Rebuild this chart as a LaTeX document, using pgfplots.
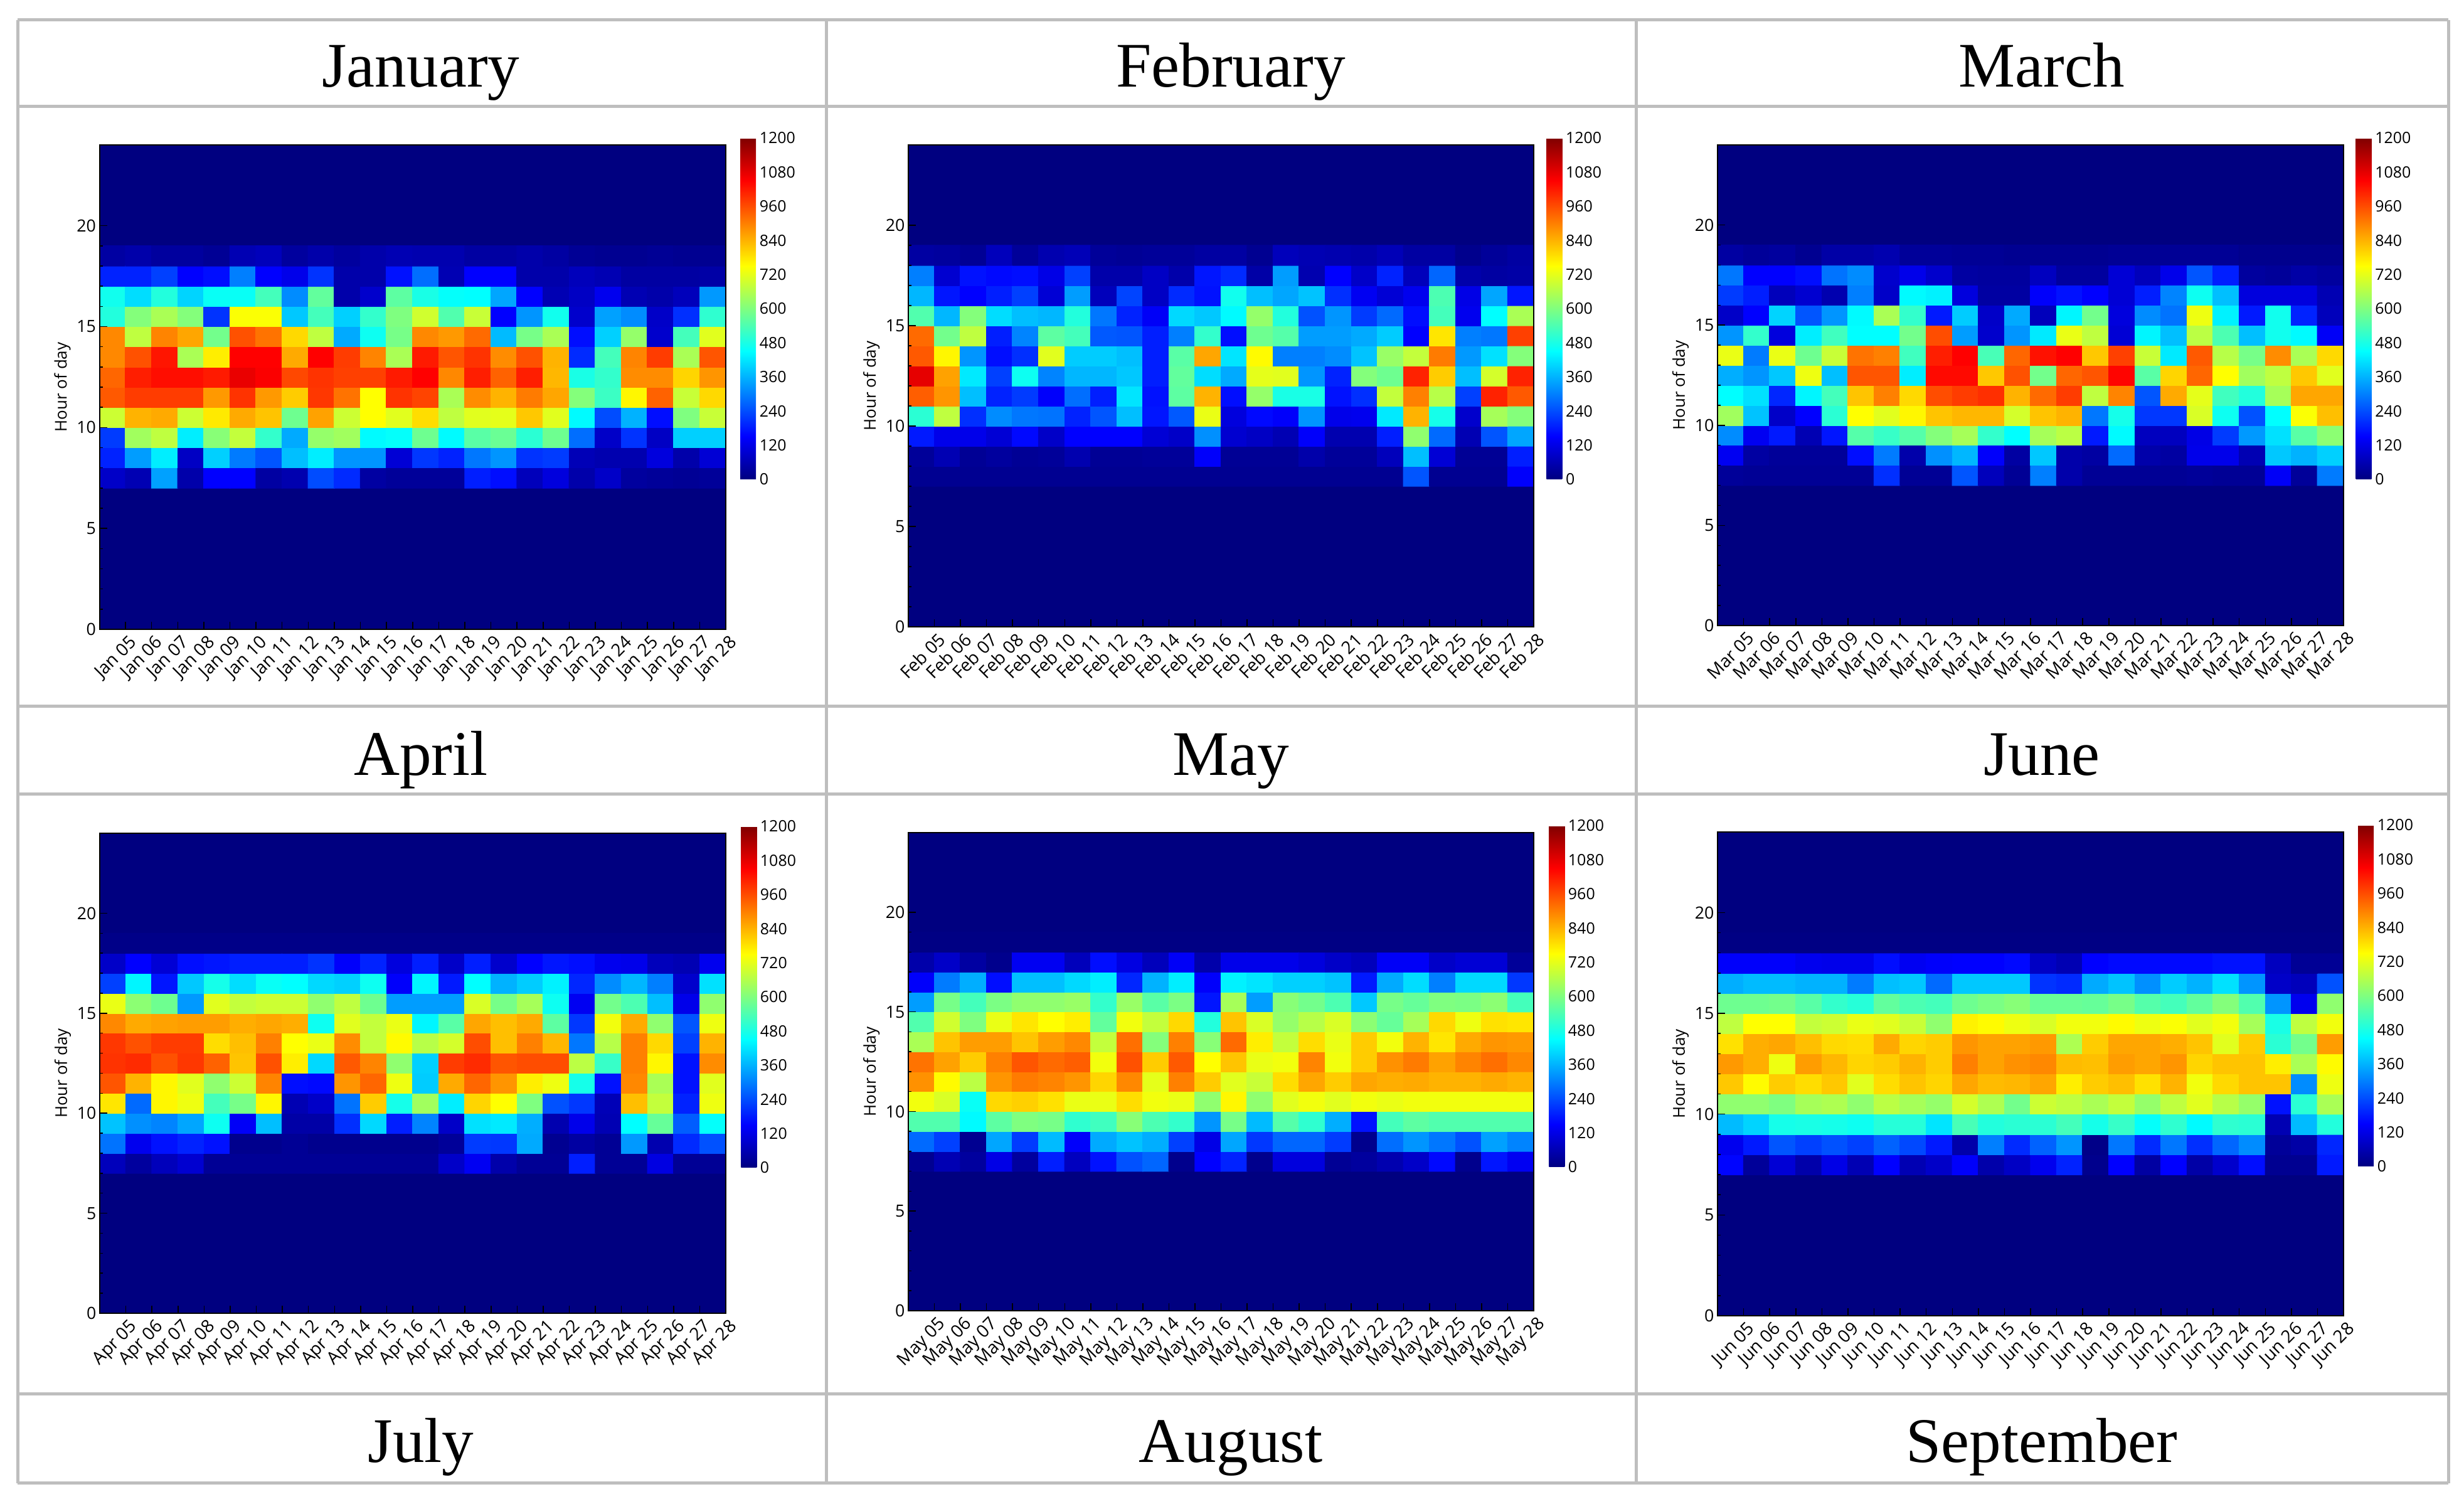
\documentclass[border=0pt]{standalone}
\usepackage{fontspec}
\usepackage{pgfplots}
\pgfplotsset{compat=1.18}
\setmainfont{Open Sans}
\newfontfamily\titlefont{Liberation Serif}
\definecolor{rule}{RGB}{190,190,190}
\definecolor{navy}{RGB}{0,0,128}

\pgfplotsset{
  heat/.style={
    scale only axis,
    axis on top,
    anchor=south west,
    xmin=0, xmax=24, ymin=0, ymax=24,
    point meta min=0, point meta max=1200,
    colormap/jet,
    axis background/.style={fill=navy},
    axis line style={line width=0.02cm},
    tick align=inside,
    xtick pos=bottom, ytick pos=left,
    xtick={1,...,24},
    ytick={0,5,...,20},
    minor y tick num=4,
    major tick length=0.12cm,
    minor tick length=0.05cm,
    tick style={black, line width=0.015cm},
    /pgf/number format/assume math mode=true,
    /pgf/number format/1000 sep={},
    xticklabel style={font=\fontsize{8}{9}\selectfont, rotate=45, anchor=north east, inner sep=0.02cm, yshift=-0.06cm},
    yticklabel style={font=\fontsize{7.6}{9}\selectfont, inner sep=0.05cm},
    ylabel={Hour of day},
    ylabel style={font=\fontsize{7.4}{8}\selectfont, at={(axis description cs:-0.059,0.5)}, anchor=center},
    colorbar,
    colorbar style={
      xshift=-0.32cm, yshift=0.11cm,
      width=0.25cm, height=5.44cm,
      ytick={0,120,...,1200},
      axis line style={draw=none},
      ytick style={draw=none},
      yticklabel pos=right,
      yticklabel style={font=\fontsize{7.1}{8}\selectfont, inner sep=0.05cm,
        /pgf/number format/assume math mode=true, /pgf/number format/1000 sep={}},
      ylabel={},
    },
  },
}

% #1 x, #2 y, #3 width, #4 height, #5 month, #6 cell values, hours 7 up to 18, days 05 to 28
% first two values of each row are guard columns left of xmin, clipped away:
% matrix plot* shears the first columns of its mesh
\newcommand{\panel}[6]{%
  \begin{axis}[heat, at={(#1cm,#2cm)}, width=#3cm, height=#4cm,
    xticklabels={#5 05,#5 06,#5 07,#5 08,#5 09,#5 10,#5 11,#5 12,#5 13,#5 14,#5 15,#5 16,#5 17,#5 18,#5 19,#5 20,#5 21,#5 22,#5 23,#5 24,#5 25,#5 26,#5 27,#5 28}]
    \addplot[matrix plot*, mesh/cols=26, point meta=\thisrowno{0}]
      table[row sep=crcr, header=false,
            x expr={mod(\coordindex,26)-1.5},
            y expr={7.5+floor(\coordindex/26)}] {#6};
  \end{axis}}

\begin{document}
\begin{tikzpicture}
\fill[white] (0,0) rectangle (39.28,23.97);
% table rules
\foreach \y in {32,170,1126,1266,2222,2364}
  \draw[rule, line width=0.05cm] (0.28,{23.97-\y/100}) -- (39.03,{23.97-\y/100});
\foreach \x in {28,1317,2608,3903}
  \draw[rule, line width=0.05cm] ({\x/100},{23.97-0.32}) -- ({\x/100},{23.97-23.64});
% month headings
\foreach \x/\y/\t in {6.71/22.58/January,19.62/22.58/February,32.55/22.58/March,
                      6.71/11.61/April,19.62/11.61/May,32.55/11.61/June,
                      6.71/0.66/July,19.62/0.66/August,32.55/0.66/September}
  \node[font=\titlefont\fontsize{28.8}{32}\selectfont, anchor=base] at (\x,\y) {\t};

\panel{1.585}{13.94}{9.985}{7.72}{Jan}{
0\\0\\85\\60\\340\\50\\150\\150\\40\\55\\240\\200\\40\\30\\30\\30\\185\\165\\70\\110\\50\\85\\35\\30\\25\\30\\
0\\0\\190\\335\\430\\80\\395\\295\\250\\375\\430\\325\\325\\100\\215\\190\\290\\325\\210\\220\\65\\55\\55\\110\\50\\100\\
0\\0\\220\\640\\675\\430\\610\\680\\510\\350\\625\\640\\445\\455\\580\\445\\555\\575\\500\\580\\280\\85\\210\\80\\395\\395\\
0\\0\\690\\840\\850\\690\\775\\850\\820\\580\\860\\690\\750\\715\\790\\675\\715\\720\\815\\715\\445\\240\\360\\165\\600\\685\\
0\\0\\945\\980\\980\\980\\870\\990\\870\\810\\985\\915\\750\\990\\970\\650\\885\\840\\905\\855\\605\\520\\760\\935\\685\\795\\
0\\0\\930\\1015\\1035\\1035\\1020\\1075\\1055\\965\\990\\975\\975\\1020\\1050\\890\\1015\\935\\1015\\835\\480\\510\\885\\885\\800\\875\\
0\\0\\890\\955\\1025\\650\\770\\1050\\1050\\850\\1050\\980\\895\\650\\1020\\950\\990\\885\\955\\840\\200\\530\\895\\980\\650\\950\\
0\\0\\890\\675\\895\\855\\585\\955\\915\\795\\675\\350\\465\\590\\890\\870\\925\\370\\590\\650\\165\\395\\625\\90\\530\\715\\
0\\0\\490\\605\\650\\605\\210\\745\\745\\385\\530\\395\\510\\600\\695\\545\\685\\150\\325\\470\\90\\340\\315\\85\\205\\505\\
0\\0\\470\\410\\490\\400\\460\\460\\530\\315\\565\\50\\90\\560\\480\\455\\450\\345\\150\\60\\80\\130\\60\\50\\70\\330\\
0\\0\\190\\190\\225\\150\\165\\300\\150\\125\\210\\50\\50\\170\\280\\60\\150\\150\\50\\50\\70\\60\\40\\40\\40\\45\\
0\\0\\40\\50\\35\\35\\25\\60\\70\\35\\50\\35\\50\\60\\55\\55\\40\\40\\50\\40\\25\\20\\20\\25\\20\\20\\
}

\panel{14.48}{13.98}{9.97}{7.68}{Feb}{
0\\0\\20\\20\\20\\20\\20\\20\\20\\20\\20\\20\\20\\20\\20\\20\\20\\20\\20\\20\\20\\250\\20\\20\\20\\145\\
0\\0\\30\\60\\25\\35\\25\\30\\55\\25\\25\\30\\30\\145\\25\\25\\25\\50\\30\\30\\70\\375\\100\\25\\25\\185\\
0\\0\\180\\125\\125\\100\\160\\85\\150\\150\\150\\100\\85\\320\\95\\80\\60\\145\\55\\55\\185\\620\\275\\60\\250\\345\\
0\\0\\500\\675\\205\\315\\290\\285\\190\\250\\375\\175\\255\\725\\110\\160\\145\\325\\125\\130\\425\\840\\475\\90\\645\\605\\
0\\0\\940\\875\\375\\190\\220\\145\\280\\185\\420\\170\\560\\840\\165\\625\\480\\480\\170\\205\\680\\900\\665\\225\\1010\\945\\
0\\0\\1080\\860\\425\\225\\465\\305\\365\\365\\385\\185\\565\\410\\350\\720\\715\\325\\190\\605\\580\\1010\\810\\375\\700\\1010\\
0\\0\\945\\760\\325\\165\\205\\715\\390\\390\\375\\185\\555\\855\\420\\755\\300\\300\\315\\380\\630\\680\\905\\330\\415\\605\\
0\\0\\925\\585\\675\\185\\305\\560\\530\\255\\250\\185\\300\\510\\165\\580\\550\\335\\335\\350\\390\\150\\780\\300\\290\\975\\
0\\0\\545\\365\\605\\410\\375\\365\\490\\290\\190\\140\\405\\385\\445\\625\\490\\245\\325\\220\\275\\165\\530\\130\\450\\650\\
0\\0\\365\\175\\150\\185\\225\\100\\335\\70\\230\\80\\200\\170\\470\\375\\345\\380\\205\\135\\100\\130\\540\\120\\345\\175\\
0\\0\\300\\95\\170\\160\\165\\120\\225\\50\\50\\80\\50\\175\\200\\45\\335\\55\\150\\85\\190\\70\\270\\50\\40\\45\\
0\\0\\40\\35\\25\\70\\30\\55\\65\\30\\25\\30\\30\\40\\40\\20\\70\\60\\55\\50\\65\\40\\40\\15\\30\\40\\
}

\panel{27.38}{14.00}{9.98}{7.66}{Mar}{
0\\0\\30\\25\\25\\25\\25\\25\\205\\25\\25\\250\\70\\25\\300\\50\\25\\25\\25\\25\\30\\25\\25\\140\\30\\295\\
0\\0\\135\\40\\30\\30\\30\\165\\295\\50\\320\\365\\145\\40\\385\\50\\40\\275\\50\\40\\125\\125\\60\\385\\360\\395\\
0\\0\\315\\135\\180\\60\\175\\550\\515\\550\\605\\645\\510\\450\\645\\670\\180\\445\\75\\75\\120\\220\\330\\415\\555\\615\\
0\\0\\640\\380\\85\\150\\500\\750\\715\\760\\820\\835\\835\\700\\820\\840\\290\\475\\215\\215\\705\\465\\245\\450\\745\\825\\
0\\0\\450\\415\\195\\440\\530\\820\\900\\795\\960\\980\\995\\840\\925\\980\\675\\895\\250\\850\\720\\525\\490\\645\\855\\855\\
0\\0\\355\\325\\385\\730\\375\\950\\950\\430\\1040\\1040\\815\\955\\585\\930\\950\\1045\\555\\800\\930\\750\\640\\675\\815\\715\\
0\\0\\725\\295\\725\\580\\685\\915\\900\\525\\1015\\1050\\535\\930\\1030\\1050\\815\\975\\685\\425\\945\\665\\590\\885\\650\\795\\
0\\0\\325\\510\\110\\430\\525\\450\\450\\585\\960\\335\\90\\325\\425\\725\\675\\100\\440\\375\\670\\540\\375\\470\\445\\140\\
0\\0\\85\\150\\400\\250\\325\\445\\650\\510\\180\\390\\85\\350\\70\\440\\585\\110\\315\\285\\730\\435\\180\\470\\190\\70\\
0\\0\\220\\185\\70\\95\\55\\300\\85\\445\\435\\110\\40\\40\\145\\170\\150\\100\\185\\305\\465\\375\\110\\110\\110\\60\\
0\\0\\290\\150\\150\\165\\285\\315\\90\\125\\90\\40\\35\\35\\75\\35\\35\\100\\70\\125\\250\\185\\35\\30\\45\\35\\
0\\0\\40\\30\\35\\20\\45\\45\\55\\30\\30\\25\\25\\20\\20\\20\\20\\25\\25\\25\\25\\25\\15\\15\\15\\15\\
}

\panel{1.59}{3.04}{9.98}{7.65}{Apr}{
0\\0\\70\\35\\70\\95\\25\\25\\25\\25\\25\\25\\25\\25\\25\\85\\135\\50\\25\\25\\185\\25\\25\\115\\25\\25\\
0\\0\\285\\130\\170\\190\\170\\15\\15\\25\\15\\15\\15\\15\\15\\30\\220\\215\\350\\20\\40\\25\\330\\55\\200\\245\\
0\\0\\380\\320\\305\\345\\465\\140\\375\\45\\45\\205\\405\\185\\305\\85\\415\\425\\355\\55\\125\\60\\450\\570\\260\\455\\
0\\0\\780\\275\\760\\730\\530\\590\\760\\60\\85\\285\\810\\475\\640\\430\\800\\750\\600\\245\\215\\65\\825\\680\\190\\730\\
0\\0\\950\\840\\760\\715\\620\\690\\895\\165\\160\\875\\930\\730\\390\\850\\930\\875\\770\\730\\475\\170\\890\\650\\170\\715\\
0\\0\\990\\1000\\955\\985\\935\\820\\955\\770\\405\\945\\895\\620\\395\\980\\1000\\950\\960\\960\\670\\515\\900\\760\\170\\885\\
0\\0\\985\\955\\980\\980\\790\\825\\900\\750\\725\\885\\680\\755\\665\\700\\960\\825\\900\\835\\290\\665\\900\\795\\225\\840\\
0\\0\\890\\850\\860\\865\\865\\845\\855\\845\\465\\715\\680\\725\\440\\555\\855\\825\\850\\560\\215\\735\\850\\620\\250\\730\\
0\\0\\725\\615\\580\\330\\715\\680\\690\\690\\620\\675\\580\\335\\335\\335\\705\\590\\645\\465\\135\\585\\540\\375\\125\\620\\
0\\0\\225\\440\\175\\385\\475\\410\\460\\450\\405\\395\\465\\145\\440\\180\\450\\360\\390\\435\\195\\315\\365\\300\\90\\415\\
0\\0\\85\\150\\100\\165\\175\\185\\185\\185\\210\\145\\190\\110\\185\\85\\185\\90\\150\\175\\165\\130\\125\\70\\60\\130\\
0\\0\\10\\10\\10\\10\\10\\10\\10\\10\\10\\10\\10\\10\\10\\10\\10\\10\\10\\10\\10\\10\\10\\10\\10\\10\\
}

\panel{14.48}{3.08}{9.97}{7.62}{May}{
0\\0\\20\\60\\35\\120\\35\\185\\75\\170\\245\\270\\15\\150\\190\\15\\110\\110\\25\\35\\55\\85\\160\\15\\175\\135\\
0\\0\\275\\225\\20\\345\\220\\370\\145\\350\\380\\355\\225\\120\\345\\215\\270\\270\\220\\15\\280\\325\\290\\245\\340\\305\\
0\\0\\545\\545\\445\\560\\600\\590\\505\\525\\610\\540\\510\\325\\590\\370\\550\\505\\355\\170\\530\\560\\545\\545\\545\\545\\
0\\0\\735\\705\\460\\795\\805\\785\\725\\725\\790\\735\\725\\620\\760\\620\\715\\735\\715\\735\\725\\735\\735\\735\\735\\735\\
0\\0\\880\\755\\670\\875\\905\\895\\875\\800\\890\\720\\900\\810\\715\\685\\790\\855\\810\\855\\845\\850\\840\\840\\850\\840\\
0\\0\\915\\860\\810\\900\\950\\925\\940\\735\\955\\810\\945\\750\\820\\725\\735\\895\\735\\810\\880\\905\\860\\895\\920\\890\\
0\\0\\650\\820\\865\\865\\820\\865\\890\\680\\920\\605\\900\\610\\925\\770\\680\\790\\725\\810\\735\\840\\780\\850\\875\\870\\
0\\0\\545\\695\\600\\725\\780\\750\\770\\565\\735\\680\\795\\490\\820\\705\\625\\665\\705\\615\\570\\645\\795\\730\\785\\780\\
0\\0\\335\\590\\530\\595\\620\\620\\630\\510\\630\\555\\595\\175\\645\\335\\610\\585\\540\\385\\590\\570\\600\\595\\615\\530\\
0\\0\\145\\295\\355\\165\\375\\375\\405\\430\\195\\360\\430\\145\\435\\420\\395\\395\\380\\180\\350\\410\\300\\405\\405\\215\\
0\\0\\50\\85\\40\\15\\135\\135\\70\\165\\115\\70\\140\\50\\125\\125\\125\\110\\85\\70\\140\\140\\85\\100\\100\\30\\
0\\0\\5\\5\\5\\5\\5\\5\\5\\5\\5\\5\\5\\5\\5\\5\\5\\5\\5\\5\\5\\5\\5\\5\\5\\5\\
}

\panel{27.38}{3.00}{9.98}{7.71}{Jun}{
0\\0\\155\\30\\100\\50\\120\\60\\150\\60\\85\\145\\50\\80\\130\\190\\15\\150\\40\\150\\45\\90\\165\\20\\20\\180\\
0\\0\\130\\180\\250\\225\\245\\225\\265\\235\\180\\50\\300\\200\\265\\325\\10\\290\\200\\290\\205\\270\\315\\30\\45\\195\\
0\\0\\370\\400\\475\\480\\475\\465\\495\\495\\420\\535\\490\\500\\500\\530\\475\\515\\455\\505\\445\\505\\500\\60\\370\\490\\
0\\0\\620\\620\\600\\645\\655\\620\\670\\645\\625\\700\\655\\585\\690\\675\\650\\680\\625\\675\\715\\665\\625\\170\\500\\650\\
0\\0\\815\\755\\810\\790\\815\\715\\790\\820\\800\\855\\830\\835\\855\\770\\810\\825\\785\\840\\735\\795\\820\\820\\315\\730\\
0\\0\\870\\845\\730\\865\\835\\800\\810\\840\\810\\900\\860\\880\\890\\830\\825\\865\\855\\875\\800\\820\\820\\770\\650\\755\\
0\\0\\785\\845\\855\\825\\795\\790\\850\\800\\810\\875\\860\\860\\870\\655\\810\\855\\855\\845\\820\\715\\810\\500\\585\\865\\
0\\0\\675\\750\\750\\680\\690\\725\\715\\685\\620\\765\\755\\730\\705\\735\\735\\755\\730\\745\\715\\735\\645\\480\\675\\735\\
0\\0\\580\\580\\585\\555\\510\\495\\565\\540\\530\\580\\595\\610\\575\\575\\570\\590\\550\\530\\565\\605\\545\\325\\130\\620\\
0\\0\\355\\370\\370\\360\\360\\295\\375\\385\\275\\385\\385\\385\\210\\200\\350\\380\\320\\390\\360\\415\\325\\85\\70\\245\\
0\\0\\145\\145\\145\\130\\125\\125\\165\\135\\145\\150\\150\\160\\80\\60\\150\\160\\160\\160\\160\\170\\170\\75\\25\\25\\
0\\0\\5\\5\\5\\5\\5\\5\\5\\5\\5\\5\\5\\5\\5\\5\\5\\5\\5\\5\\5\\5\\5\\5\\5\\5\\
}
\end{tikzpicture}
\end{document}
